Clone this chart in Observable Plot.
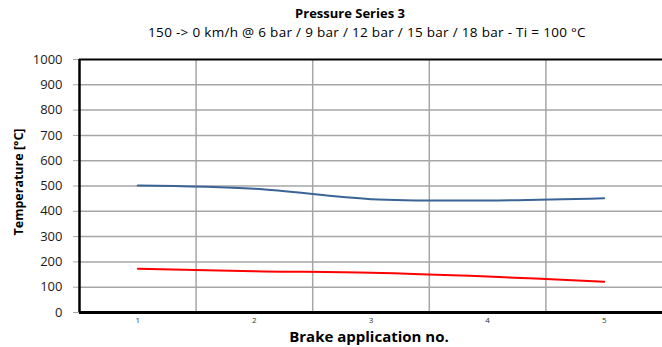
<!DOCTYPE html>
<html><head><meta charset="utf-8">
<script src="https://cdn.jsdelivr.net/npm/d3@7"></script>
<script src="https://cdn.jsdelivr.net/npm/@observablehq/plot@0.6"></script>
<style>
body{margin:0;background:#fff;}
#wrap{position:relative;width:662px;height:347px;font-family:"Open Sans",sans-serif;color:#000;overflow:hidden;}
.t{position:absolute;white-space:nowrap;transform:translate(-50%,-50%);line-height:1;}
#chart{position:absolute;left:0;top:0;}
</style></head><body>
<div id="wrap">
  <div id="chart"></div>
  <div class="t" style="left:350px;top:13px;font-weight:bold;font-size:13px;">Pressure Series 3</div>
  <div class="t" style="left:367px;top:33px;font-size:13.5px;letter-spacing:0.3px;">150 -&gt; 0 km/h @ 6 bar / 9 bar / 12 bar / 15 bar / 18 bar - Ti = 100 °C</div>
  <div class="t" style="left:369px;top:336px;font-weight:bold;font-size:15px;">Brake application no.</div>
  <div class="t" style="left:19px;top:182px;font-weight:bold;font-size:12.5px;transform:translate(-50%,-50%) rotate(-90deg);">Temperature [°C]</div>
</div>
<script>
const apps = [1, 2, 3, 4, 5];
const seriesBlue = [502, 489, 448, 443, 452];
const seriesRed = [173, 163, 157, 142, 122];
const yTicks = [0, 100, 200, 300, 400, 500, 600, 700, 800, 900, 1000];

const separators = apps.slice(1).map(d => d - 0.5);
const blueData = apps.map((a, i) => ({a, v: seriesBlue[i]}));
const redData = apps.map((a, i) => ({a, v: seriesRed[i]}));

const chart = Plot.plot({
  width: 662, height: 347,
  marginLeft: 79, marginRight: 0, marginTop: 59, marginBottom: 35,
  style: {fontFamily: "'Open Sans', sans-serif", fontSize: "12px", color: "#000", background: "transparent"},
  x: {domain: [0.5, 5.5], label: null},
  y: {domain: [0, 1000], label: null},
  marks: [
    Plot.ruleY(yTicks.filter(d => d > 0 && d < 1000), {stroke: "#a6a6a6", strokeWidth: 1.5}),
    Plot.ruleX(separators, {stroke: "#a6a6a6", strokeWidth: 1.5}),
    Plot.ruleY([1000], {stroke: "#000", strokeWidth: 2}),
    Plot.axisY({ticks: yTicks, tickSize: 6, tickPadding: 11, fontSize: 13, stroke: "#a6a6a6", fill: "#1a1a1a", tickFormat: d => String(d), label: null}),
    Plot.axisX({ticks: apps, tickSize: 0, tickPadding: 5, fontSize: 8, fill: "#333", tickFormat: d => String(d), label: null}),
    Plot.line(blueData, {x: "a", y: "v", stroke: "#3b6496", strokeWidth: 2, curve: "catmull-rom"}),
    Plot.line(redData, {x: "a", y: "v", stroke: "#ff0000", strokeWidth: 2, curve: "catmull-rom"}),
    Plot.ruleY([0], {stroke: "#000", strokeWidth: 3}),
    Plot.ruleX([0.5], {stroke: "#000", strokeWidth: 2.5})
  ]
});
document.getElementById("chart").appendChild(chart);
</script>
</body></html>
